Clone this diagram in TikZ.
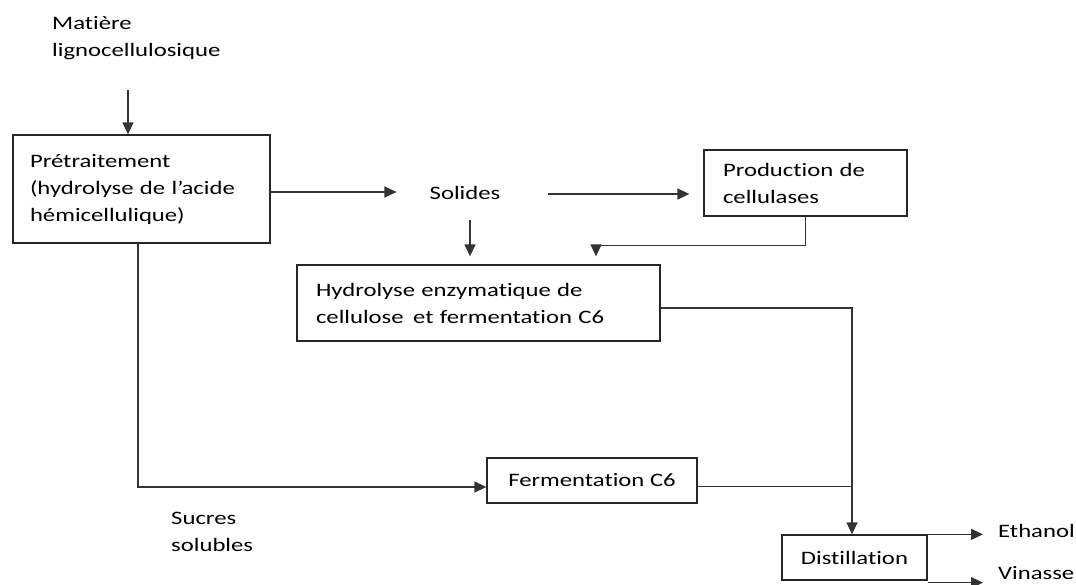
\documentclass[tikz,border=0pt]{standalone}
\usepackage{fontspec}
\setmainfont{Carlito}[FakeStretch=1.3, Ligatures={NoCommon,NoRequired,NoContextual}]
\usetikzlibrary{arrows.meta,positioning}
\begin{document}
\begin{tikzpicture}[x=1pt,y=-1pt,
  every node/.style={font=\fontsize{19}{27}\selectfont, text=black},
  box/.style={draw=black!85, line width=1.3pt, rectangle, inner ysep=0pt},
  lbl/.style={inner sep=0pt, align=left},
  conn/.style={draw=black!80, line width=1.3pt},
  arr/.style={conn, -{Triangle[length=12pt,width=11pt]}}
]
\useasboundingbox (0,0) rectangle (1076,584);
% text labels
\node[lbl, anchor=west] (mat) at (52,38.5) {Matière\\lignocellulosique};
\node[lbl] (sol) at (465,193) {Solides};
\node[lbl, anchor=west] (suc) at (171,532) {Sucres\\solubles};
\node[lbl, anchor=west] (eth) at (998,531) {Ethanol};
\node[lbl, anchor=west] (vin) at (998,573) {Vinasse};
% boxes
\node[box, minimum width=257pt, minimum height=108pt, inner xsep=17pt,
      text width=223pt, align=left] (pre) at (141.5,189) {Prétraitement\\(hydrolyse de l’acide\\hémicellulique)};
\node[box, minimum width=203pt, minimum height=66pt, inner xsep=19pt,
      text width=165pt, align=left] (prod) at (805.5,183) {Production de\\cellulases};
\node[box, minimum width=363pt, minimum height=76pt, inner xsep=19pt,
      text width=325pt, align=left] (hyd) at (478.5,303) {Hydrolyse enzymatique de\\cellulose\, et fermentation C6};
\node[box, minimum width=210pt, minimum height=45pt] (fer) at (592,480.5) {Fermentation C6};
\node[box, minimum width=145pt, minimum height=45pt] (dis) at (854.5,557.5) {Distillation};
% connectors
\coordinate (matend) at (128,90);
\coordinate (distop) at ([xshift=-2.5pt]dis.north);
\draw[arr] (matend) -- (matend |- pre.north);
\draw[arr, shorten >=33pt] ([yshift=-3pt]pre.east) -- ([yshift=-3pt]pre.east -| sol.west);
\draw[arr, shorten <=47pt, shorten >=14pt] ([yshift=-1pt]sol.east) -- ([yshift=-1pt]sol.east -| prod.west);
\draw[arr, shorten <=20pt, shorten >=8pt] ([xshift=5pt]sol.south) -- ([xshift=5pt]sol.south |- hyd.north);
\coordinate (hydin) at ([xshift=117.5pt]hyd.north);
\draw[arr, shorten >=8pt] (prod.south) -- ++(0,29) -| (hydin);
\draw[arr] ([yshift=-5pt]hyd.east) -| (distop);
\draw[arr] ([xshift=-3.5pt]pre.south) |- ([yshift=-6.5pt]fer.west);
\coordinate (ferout) at ([yshift=-6pt]fer.east);
\draw[conn] (ferout) -- (ferout -| distop);
\draw[arr, shorten >=15pt] (dis.north east) -- (dis.north east -| eth.west);
\coordinate (disse) at ([yshift=-2pt]dis.south east);
\draw[arr, shorten >=15pt] (disse) -- (disse -| vin.west);
\end{tikzpicture}
\end{document}
